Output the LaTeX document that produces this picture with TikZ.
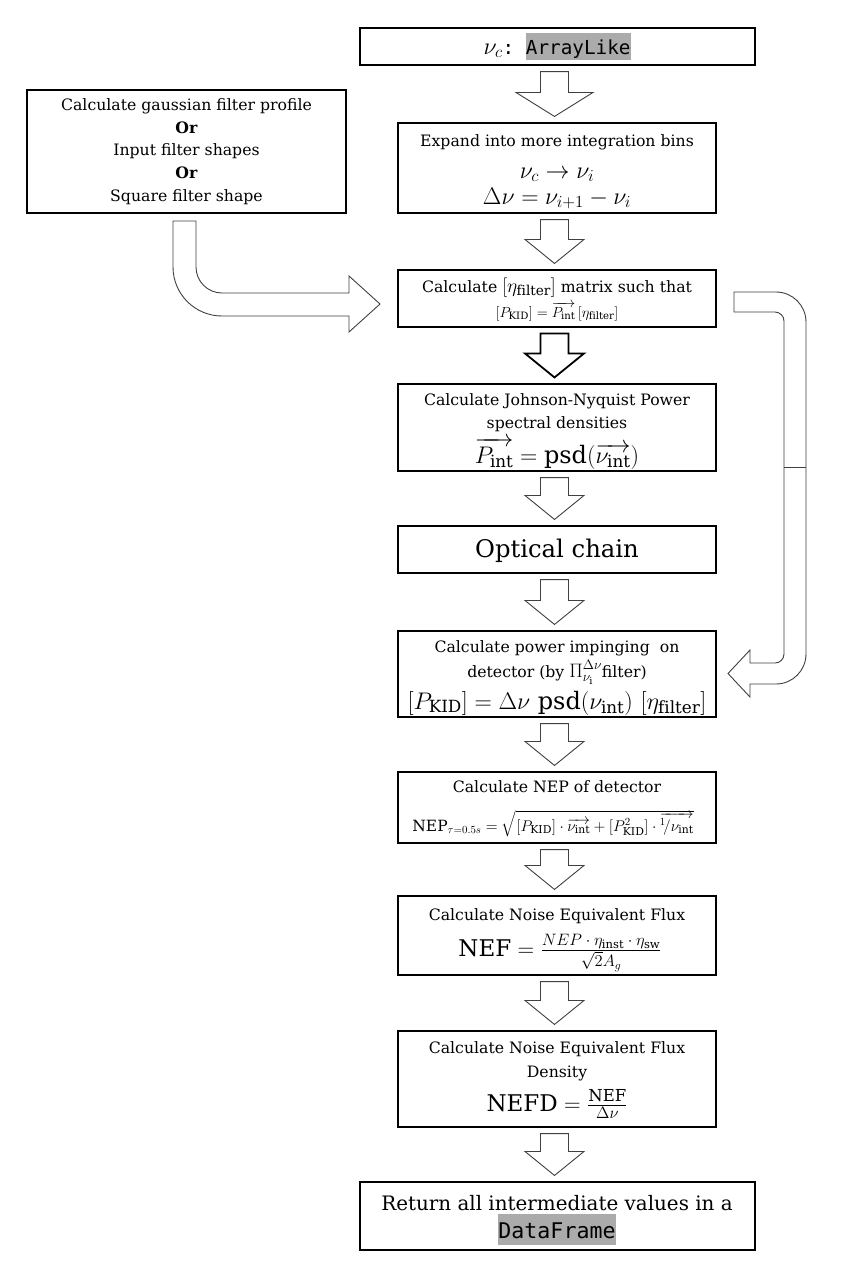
\RequirePackage{fix-cm}
\documentclass[tikz,border=0pt]{standalone}
\usepackage{amsmath}
\usepackage{fontspec}
\setmainfont{DejaVu Serif}
\newfontfamily\codefont{DejaVu Sans Mono}
\usetikzlibrary{calc}
\definecolor{codegray}{HTML}{ABABAB}
\newcommand\fsnorm{\fontsize{15.7}{22.75}\selectfont}
\newcommand\fsmath{\fontsize{24}{28}\selectfont}
\newcommand\fssmall{\fontsize{14.5}{17}\selectfont}
\newcommand\fsopt{\fontsize{24.3}{30}\selectfont}
\newcommand\fsret{\fontsize{19.9}{29}\selectfont}
\newcommand\fsinl{\fontsize{19.5}{22}\selectfont}
\newcommand\fracpart[1]{\mbox{\fontsize{16.5}{19}\selectfont$#1$}}
\newcommand\hlcode[1]{{\fboxsep=0pt\colorbox{codegray}{\rule[-0.33em]{0pt}{1.42em}#1}}}
\def\ax{554.5pt}
\newcommand\blockarrow[4][]{%
  \draw[blockarr,#1] let \p1=(#2.south), \p2=(#3.north) in
   (\ax-14pt,\y1-6pt) -- (\ax+14pt,\y1-6pt) -- (\ax+14pt,\y2+30pt) -- (\ax+#4,\y2+30pt)
   -- (\ax,\y2+6pt) -- (\ax-#4,\y2+30pt) -- (\ax-14pt,\y2+30pt) -- cycle;}
\tikzset{
  box/.style={draw=black, line width=1.1pt, rectangle, inner sep=0pt, fill=white},
  txt/.style={inner sep=0pt, align=center, anchor=base},
  blockarr/.style={draw=black!75, line width=0.9pt, fill=white, line join=miter},
}
\begin{document}
\begin{tikzpicture}[x=1pt,y=-1pt]
\useasboundingbox (0,0) rectangle (850,1275);
\fill[white] (0,0) rectangle (850,1275);

% boxes
\node[box, minimum width=395pt, minimum height=37pt] (b1) at (557.5,46.5) {};
\node[box, minimum width=319pt, minimum height=123pt, font=\fsnorm, align=center] (b2) at (186.5,151.5)
  {Calculate gaussian filter profile\\\textbf{Or}\\Input filter shapes\\\textbf{Or}\\Square filter shape};
\node[box, minimum width=318pt, minimum height=90pt] (b3) at (557,168) {};
\node[box, minimum width=318pt, minimum height=57pt] (b4) at (557,298.5) {};
\node[box, minimum width=318pt, minimum height=87pt] (b5) at (557,427.5) {};
\node[box, minimum width=318pt, minimum height=47pt] (b6) at (557,549.5) {};
\node[box, minimum width=318pt, minimum height=86pt] (b7) at (557,674) {};
\node[box, minimum width=318pt, minimum height=71pt] (b8) at (557,807.5) {};
\node[box, minimum width=318pt, minimum height=79pt] (b9) at (557,935.5) {};
\node[box, minimum width=318pt, minimum height=96pt] (b10) at (557,1079) {};
\node[box, minimum width=395pt, minimum height=68pt] (b11) at (557.5,1216) {};

% texts
\node[txt, font=\fsmath] (t1) at (557,54) {$\nu_c$\codefont\fontsize{19.3}{23}\selectfont:\ \hlcode{ArrayLike}};

\node[txt, font=\fsnorm] (t3a) at (557,146) {Expand into more integration bins};
\node[txt, font=\fsmath] (t3b) at (557,178) {$\nu_c \rightarrow \nu_i$};
\node[txt, font=\fsmath] (t3c) at (557,204) {$\Delta\nu = \nu_{i+1} - \nu_i$};

\node[txt, font=\fsnorm] (t4a) at (557,292) {Calculate {\fsinl$[\eta_{\mathrm{filter}}]$} matrix such that};
\node[txt, font=\fssmall] (t4b) at (557,317) {$[P_{\mathrm{KID}}] = \overrightarrow{P_{\mathrm{int}}}\,[\eta_{\mathrm{filter}}]$};

\node[txt, font=\fsnorm] (t5a) at (557,405) {Calculate Johnson-Nyquist Power};
\node[txt, font=\fsnorm] (t5b) at (557,428) {spectral densities};
\node[txt, font=\fsmath] (t5c) at (557,463) {$\overrightarrow{P_{\mathrm{int}}} = \mathrm{psd}(\overrightarrow{\nu_{\mathrm{int}}})$};

\node[txt, font=\fsopt] (t6) at (557,557) {Optical chain};

\node[txt, font=\fsnorm] (t7a) at (557,652) {Calculate power impinging\ \ on};
\node[txt, font=\fsnorm] (t7b) at (557,677) {detector (by {\fsinl$\Pi_{\nu_{\mathrm{i}}}^{\Delta\nu}$}filter)};
\node[txt, font=\fsmath] (t7c) at (557,709) {$[P_{\mathrm{KID}}] = \Delta\nu\ \mathrm{psd}(\nu_{\mathrm{int}})\ [\eta_{\mathrm{filter}}]$};

\node[txt, font=\fsnorm] (t8a) at (557,792) {Calculate NEP of detector};
\node[txt, font=\fontsize{15.5}{18}\selectfont] (t8b) at (553,831) {$\mathrm{NEP}_{\tau=0.5s} = \sqrt{[P_{\mathrm{KID}}]\cdot\overrightarrow{\nu_{\mathrm{int}}} + [P_{\mathrm{KID}}^{2}]\cdot\overrightarrow{{}^{1}\!/\nu_{\mathrm{int}}}}$};

\node[txt, font=\fsnorm] (t9a) at (557,920) {Calculate Noise Equivalent Flux};
\node[txt, font=\fontsize{23}{26}\selectfont] (t9b) at (560,956) {$\mathrm{NEF} = \frac{\fracpart{NEP\cdot\eta_{\mathrm{inst}}\cdot\eta_{\mathrm{sw}}}}{\fracpart{\sqrt{2}A_g}}$};

\node[txt, font=\fsnorm] (t10a) at (557,1053) {Calculate Noise Equivalent Flux};
\node[txt, font=\fsnorm] (t10b) at (557,1077) {Density};
\node[txt, font=\fontsize{23}{26}\selectfont] (t10c) at (557,1111) {$\mathrm{NEFD} = \frac{\fracpart{\mathrm{NEF}}}{\fracpart{\Delta\nu}}$};

\node[txt, font=\fsret] (t11a) at (557,1210) {Return all intermediate values in a};
\node[txt, font=\codefont\fontsize{21.6}{26}\selectfont] (t11b) at (557,1238) {\hlcode{DataFrame}};

% block arrows
\blockarrow{b1}{b3}{38.5pt}
\blockarrow{b3}{b4}{29.5pt}
\blockarrow[draw=black, line width=1.8pt]{b4}{b5}{29.5pt}
\blockarrow{b5}{b6}{29.5pt}
\blockarrow{b6}{b7}{29.5pt}
\blockarrow{b7}{b8}{29.5pt}
\blockarrow{b8}{b9}{29.5pt}
\blockarrow{b9}{b10}{29.5pt}
\blockarrow{b10}{b11}{29.5pt}

% curved arrow from filter box to eta box
\draw[blockarr] (173,221) -- (196,221) -- (196,267)
  .. controls (196,281.36) and (207.64,293) .. (222,293) -- (349,293) -- (349,276)
  -- (380,304) -- (349,332) -- (349,316) -- (222,316)
  .. controls (194.94,316) and (173,294.06) .. (173,267) -- cycle;

% curved arrow from eta box to power box
\draw[blockarr] (734,292) -- (776,292)
  .. controls (792.57,292) and (806,305.43) .. (806,322) -- (806,654)
  .. controls (806,670.57) and (792.57,684) .. (776,684) -- (750,684) -- (750,697)
  -- (728,673.5) -- (750,650) -- (750,663) -- (775,663)
  .. controls (779.97,663) and (784,658.97) .. (784,654) -- (784,321)
  .. controls (784,316.03) and (779.97,312) .. (775,312) -- (734,312) -- cycle;
\draw[blockarr] (784,467) -- (806,467);
\end{tikzpicture}
\end{document}
